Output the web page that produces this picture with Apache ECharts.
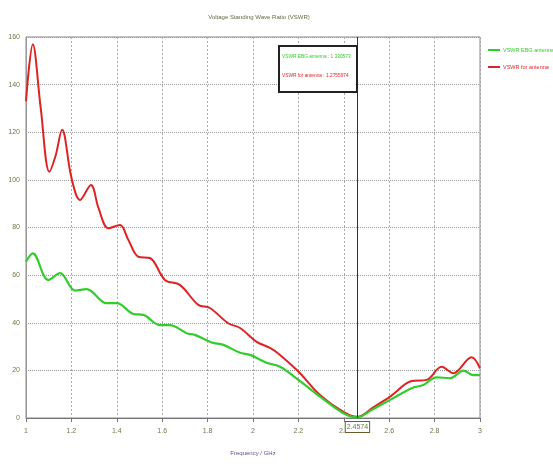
<!DOCTYPE html>
<html lang="en">
<head>
    <meta charset="UTF-8">
    <title>VSWR</title>
    <script src="https://cdn.jsdelivr.net/npm/echarts@6/dist/echarts.min.js"></script>
    <style type="text/css">
        *{
            margin: 0;
            padding: 0;
        }
        #main{
            width: 553px;
            height: 466px;
            background: #fff;
        }
    </style>
</head>
<body>
    <div id="main"></div>
</body>
<script>
    // frequency (GHz) / VSWR readings
    var ebgFreq = [1.0, 1.03, 1.098, 1.15, 1.216, 1.267, 1.355, 1.4, 1.473, 1.517, 1.59, 1.634, 1.708, 1.744,
        1.818, 1.869, 1.943, 1.987, 2.06, 2.119, 2.2, 2.295, 2.398, 2.46, 2.53, 2.604, 2.699, 2.75, 2.809,
        2.868, 2.927, 2.971, 3.0];
    var ebgVswr = [65.6, 69.1, 58, 60.8, 53.5, 54.1, 48.2, 48.2, 43.7, 43.3, 39, 39, 35.6, 34.9,
        31.7, 30.7, 27.4, 26.5, 23.2, 21.5, 16, 9, 2, 0.3, 3.8, 7.6, 12.5, 13.9, 17.1,
        16.7, 19.9, 18, 18];
    var antFreq = [1.0, 1.03, 1.065, 1.103, 1.13, 1.159, 1.2, 1.238, 1.286, 1.32, 1.363, 1.414, 1.45, 1.495,
        1.546, 1.612, 1.678, 1.759, 1.81, 1.891, 1.943, 2.016, 2.075, 2.119, 2.2, 2.295, 2.398, 2.46,
        2.53, 2.604, 2.699, 2.765, 2.831, 2.882, 2.963, 3.0];
    var antVswr = [133, 157, 130, 103.4, 110, 121, 101, 91.6, 97.9, 88, 79.7, 81, 75, 67.7,
        67.2, 58, 55.9, 47.5, 46.2, 39.8, 37.8, 32, 29.4, 26.5, 19.5, 9.7, 2.6, 0.5,
        4.5, 9, 15.5, 16, 21.5, 18.8, 25.5, 20.9];
    var markerFreq = 2.4574;
    var seriesNames = ['VSWR EBG antenna', 'VSWR for antenna'];
    var markerValues = ['1.330573', '1.2755974'];

    function pairs(xs, ys){
        var out = [];
        for (var i = 0; i < xs.length; i++){
            out.push([xs[i], ys[i]]);
        }
        return out;
    }

    var green = '#33cc2e';
    var red = '#dd2424';
    var labelColor = '#6b7a4a';
    var font = '"Liberation Sans", sans-serif';

    var myChart = echarts.init(document.getElementById('main'));
    var option = {
        animation: false,
        title: {
            text: 'Voltage Standing Wave Ratio (VSWR)',
            left: 254,
            textAlign: 'center',
            top: 9,
            textStyle: {fontSize: 6, fontWeight: 'normal', color: '#5b6a3e', fontFamily: font}
        },
        legend: {
            orient: 'vertical',
            left: 483,
            top: 42,
            itemWidth: 12,
            itemHeight: 2,
            itemGap: 11,
            icon: 'rect',
            textStyle: {fontSize: 5.5, fontFamily: font, padding: [0, 0, 0, -2]},
            data: [
                {name: seriesNames[0], textStyle: {color: green}},
                {name: seriesNames[1], textStyle: {color: red}}
            ]
        },
        grid: {
            left: 26,
            right: 73,
            top: 37,
            bottom: 48,
            show: true,
            borderColor: '#888',
            borderWidth: 1
        },
        xAxis: {
            type: 'value',
            min: 1,
            max: 3,
            interval: 0.2,
            name: 'Frequency / GHz',
            nameLocation: 'middle',
            nameGap: 32,
            nameTextStyle: {fontSize: 6, color: '#6a4c8c', fontFamily: font},
            axisLine: {lineStyle: {color: '#777'}},
            axisTick: {show: true, length: 4, inside: false, lineStyle: {color: '#777'}},
            axisLabel: {fontSize: 7, color: labelColor, margin: 10, fontFamily: font},
            splitLine: {show: true, lineStyle: {color: '#aaa', type: [2, 2]}}
        },
        yAxis: {
            type: 'value',
            min: 0,
            max: 160,
            interval: 20,
            axisLine: {show: true, lineStyle: {color: '#999'}},
            axisTick: {show: false},
            axisLabel: {fontSize: 7, color: labelColor, margin: 6, fontFamily: font},
            splitLine: {show: true, lineStyle: {color: '#999', type: [1, 1]}}
        },
        graphic: [
            {
                type: 'rect',
                left: 278,
                top: 45,
                shape: {width: 78, height: 46},
                style: {fill: '#fff', stroke: '#222', lineWidth: 2},
                z: 100
            },
            {
                type: 'text',
                x: 282,
                y: 53,
                scaleX: 0.8,
                style: {text: seriesNames[0] + ' : ' + markerValues[0], fill: green, fontSize: 6, fontFamily: font},
                z: 101
            },
            {
                type: 'text',
                x: 282,
                y: 72,
                scaleX: 0.8,
                style: {text: seriesNames[1] + ' : ' + markerValues[1], fill: red, fontSize: 6, fontFamily: font},
                z: 101
            }
        ],
        series: [
            {
                name: seriesNames[0],
                type: 'line',
                smooth: 0.35,
                showSymbol: false,
                color: green,
                lineStyle: {width: 2.2, color: green},
                data: pairs(ebgFreq, ebgVswr),
                z: 3
            },
            {
                name: seriesNames[1],
                type: 'line',
                smooth: 0.35,
                showSymbol: false,
                color: red,
                lineStyle: {width: 2, color: red},
                data: pairs(antFreq, antVswr),
                z: 2,
                markLine: {
                    symbol: ['none', 'none'],
                    silent: true,
                    lineStyle: {color: '#333', width: 1, type: 'solid'},
                    label: {
                        show: true,
                        position: 'start',
                        formatter: String(markerFreq),
                        fontSize: 7,
                        fontFamily: font,
                        color: labelColor,
                        borderColor: '#6b5a2a',
                        borderWidth: 1,
                        padding: [2, 1, 1, 1],
                        backgroundColor: '#fff',
                        distance: 4
                    },
                    data: [{xAxis: markerFreq}]
                }
            }
        ]
    };
    myChart.setOption(option);
</script>
</html>
